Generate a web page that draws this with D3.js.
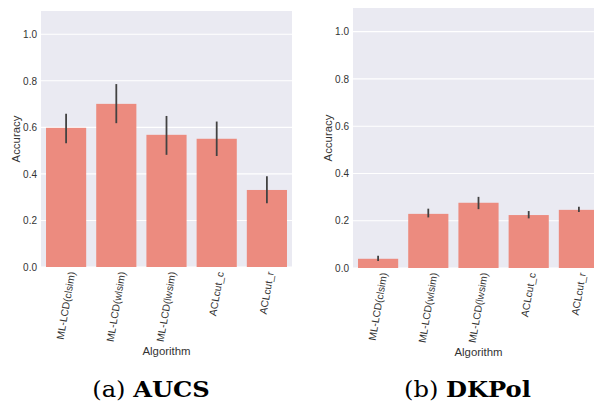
<!DOCTYPE html>
<html><head><meta charset="utf-8">
<script src="https://cdn.jsdelivr.net/npm/d3@7"></script>
<style>body{margin:0;background:#fff}svg{display:block}</style>
</head><body>
<svg id="c" width="594" height="403"></svg>
<script>
const categories = ["ML-LCD(clsim)","ML-LCD(wlsim)","ML-LCD(lwsim)","ACLcut_c","ACLcut_r"];
const yTicks = [0.0,0.2,0.4,0.6,0.8,1.0];
const aucsMean = [0.598,0.701,0.568,0.551,0.331];
const aucsLow  = [0.532,0.618,0.482,0.477,0.274];
const aucsHigh = [0.658,0.786,0.649,0.625,0.390];
const dkpolMean = [0.039,0.229,0.276,0.224,0.246];
const dkpolLow  = [0.030,0.214,0.249,0.210,0.237];
const dkpolHigh = [0.052,0.251,0.301,0.241,0.259];
const captions = [{pre:"(a) ",bold:"AUCS"},{pre:"(b) ",bold:"DKPol"}];

const svg = d3.select("#c");
const font = "'Liberation Sans', Arial, sans-serif";
const ang = 80 * Math.PI / 180;

function panel(x0, y0, w, h, mean, low, high, cap, capX) {
  const g = svg.append("g");
  const x = d3.scaleBand().domain(categories).range([x0, x0 + w]).paddingInner(0.2).paddingOuter(0.1);
  const y = d3.scaleLinear().domain([0, 1.1]).range([y0 + h, y0]);
  g.append("rect").attr("x", x0).attr("y", y0).attr("width", w).attr("height", h).attr("fill", "#EAEAF2");
  g.selectAll("line.grid").data(yTicks).enter().append("line")
    .attr("x1", x0).attr("x2", x0 + w).attr("y1", d => y(d)).attr("y2", d => y(d))
    .attr("stroke", "#fff").attr("stroke-width", 1.1);
  g.selectAll("rect.bar").data(categories).enter().append("rect")
    .attr("x", d => x(d)).attr("width", x.bandwidth())
    .attr("y", (d, i) => y(mean[i])).attr("height", (d, i) => y(0) - y(mean[i]))
    .attr("fill", "#EC8B7F");
  g.selectAll("line.err").data(categories).enter().append("line")
    .attr("x1", d => x(d) + x.bandwidth() / 2).attr("x2", d => x(d) + x.bandwidth() / 2)
    .attr("y1", (d, i) => y(low[i])).attr("y2", (d, i) => y(high[i]))
    .attr("stroke", "#424242").attr("stroke-width", 1.8);
  // y axis
  const ya = d3.axisLeft(y).tickValues(yTicks).tickFormat(d3.format(".1f")).tickSize(0).tickPadding(4);
  const yg = g.append("g").attr("transform", `translate(${x0},0)`).call(ya);
  yg.select(".domain").remove();
  yg.selectAll("text").attr("font-family", font).attr("font-size", 10).attr("fill", "#333");
  // x axis
  const xa = d3.axisBottom(x).tickSize(0).tickPadding(0);
  const xg = g.append("g").attr("transform", `translate(0,${y0 + h})`).call(xa);
  xg.select(".domain").remove();
  const fs = 10.3;
  xg.selectAll("text").attr("font-family", font).attr("font-size", fs).attr("fill", "#333")
    .attr("text-anchor", "middle").attr("dy", "0.32em").attr("x", 0).attr("y", 0)
    .each(function () {
      const L = this.getComputedTextLength();
      const bh = L * Math.sin(ang) + fs * 1.0 * Math.cos(ang);
      d3.select(this).attr("transform", `translate(0,${4 + bh / 2}) rotate(-80)`);
    });
  g.append("text").attr("transform", `translate(${x0 - 21},${y0 + h / 2}) rotate(-90)`)
    .attr("text-anchor", "middle").attr("font-family", font).attr("font-size", 11.4).attr("fill", "#333")
    .text("Accuracy");
  g.append("text").attr("x", x0 + w / 2).attr("y", y0 + h + 88)
    .attr("text-anchor", "middle").attr("font-family", font).attr("font-size", 11.4).attr("fill", "#333")
    .text("Algorithm");
  const t = g.append("text").attr("transform", `translate(${capX},397) scale(1.1,1)`)
    .attr("text-anchor", "middle")
    .attr("font-family", "'DejaVu Serif', serif").attr("font-size", 22).attr("fill", "#000");
  t.append("tspan").text(cap.pre);
  t.append("tspan").attr("font-weight", "bold").text(cap.bold);
}

panel(41, 11, 251, 256, aucsMean, aucsLow, aucsHigh, captions[0], 151);
panel(353, 8, 251, 260, dkpolMean, dkpolLow, dkpolHigh, captions[1], 467.5);
</script>
</body></html>
